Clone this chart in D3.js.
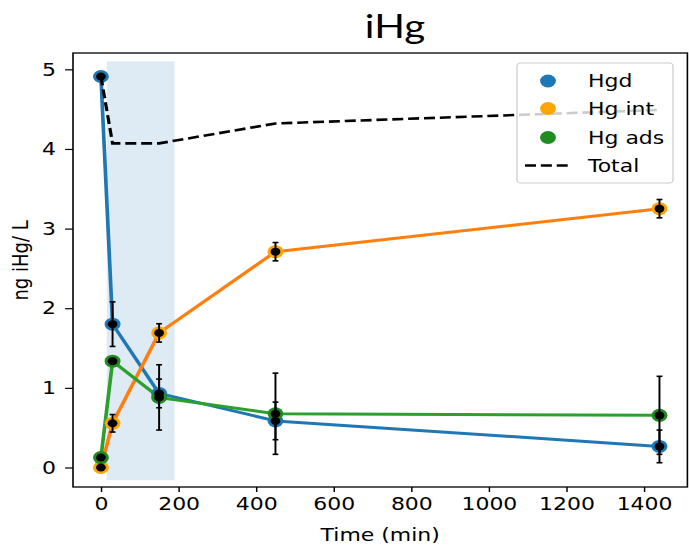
<!DOCTYPE html>
<html>
<head>
<meta charset="utf-8">
<script src="https://cdn.jsdelivr.net/npm/d3@7"></script>
<style>
  html, body { margin: 0; padding: 0; background: #fff; }
  svg { display: block; }
  text { font-family: "DejaVu Sans", sans-serif; fill: #000; }
</style>
</head>
<body>
<svg id="chart"></svg>
<script>
// Sampling times (min)
const times = [0, 30, 150, 450, 1440];

// Mercury fractions (ng iHg / L) and their standard deviations
const hgd      = [4.91, 1.80, 0.93, 0.585, 0.265];
const hgdErr   = [0.0, 0.28, 0.18, 0.236, 0.205];
const hgInt    = [0.0, 0.555, 1.69, 2.71, 3.25];
const hgIntErr = [0.0, 0.11, 0.115, 0.115, 0.115];
const hgAds    = [0.125, 1.335, 0.88, 0.675, 0.655];
const hgAdsErr = [0.0, 0.0, 0.41, 0.51, 0.49];
const total    = [4.91, 4.07, 4.07, 4.32, 4.49];

// Shaded exposure window (min) and its vertical extent
const windowX = [15, 190];
const windowY = [-0.16, 5.1];

const xTicks = [0, 200, 400, 600, 800, 1000, 1200, 1400];
const yTicks = [0, 1, 2, 3, 4, 5];

const seriesNames = ["Hgd", "Hg int", "Hg ads"];

// Figure is drawn in a slightly narrower coordinate space and widened to the page
const k = 1.22;
const Wpx = 689, Hpx = 548;
const W = Wpx / k;
const fontSize = 18;

const svg = d3.select("#chart")
  .attr("width", Wpx).attr("height", Hpx)
  .attr("viewBox", `0 0 ${W} ${Hpx}`)
  .attr("preserveAspectRatio", "none");

const plotLeft = 73 / k, plotRight = 687.4 / k, plotTop = 53, plotBottom = 487;

const x = d3.scaleLinear().domain([-72, 1512]).range([plotLeft, plotRight]);
const y = d3.scaleLinear().domain([-0.245, 5.205]).range([plotBottom, plotTop]);

// Exposure window
svg.append("rect")
  .attr("x", x(windowX[0])).attr("width", x(windowX[1]) - x(windowX[0]))
  .attr("y", y(windowY[1])).attr("height", y(windowY[0]) - y(windowY[1]))
  .attr("fill", "rgba(31,119,180,0.15)");

const series = [
  { name: seriesNames[0], vals: hgd,   err: hgdErr,   line: "#1f77b4", dot: "#1f77b4" },
  { name: seriesNames[1], vals: hgInt, err: hgIntErr, line: "#ff7f0e", dot: "#ffa500" },
  { name: seriesNames[2], vals: hgAds, err: hgAdsErr, line: "#2ca02c", dot: "#228b22" }
];

const line = d3.line().x((d, i) => x(times[i])).y(d => y(d));

// Connecting lines
series.forEach(s => {
  svg.append("path").datum(s.vals)
    .attr("d", line).attr("fill", "none")
    .attr("stroke", s.line).attr("stroke-width", 3).attr("stroke-linejoin", "round");
});

// Coloured markers
series.forEach(s => {
  svg.append("g").selectAll("ellipse").data(s.vals).join("ellipse")
    .attr("cx", (d, i) => x(times[i])).attr("cy", d => y(d))
    .attr("rx", 6.5).attr("ry", 6.5)
    .attr("fill", s.dot);
});

// Total
svg.append("path").datum(total)
  .attr("d", line).attr("fill", "none")
  .attr("stroke", "#000").attr("stroke-width", 2.6)
  .attr("stroke-dasharray", "9,4");

// Error bars with black centre points
series.forEach(s => {
  const g = svg.append("g");
  s.vals.forEach((v, i) => {
    const e = s.err[i];
    const cx = x(times[i]);
    if (e > 0) {
      g.append("line").attr("x1", cx).attr("x2", cx)
        .attr("y1", y(v - e)).attr("y2", y(v + e))
        .attr("stroke", "#000").attr("stroke-width", 1.6);
      [v - e, v + e].forEach(c => {
        g.append("line").attr("x1", cx - 2.4).attr("x2", cx + 2.4)
          .attr("y1", y(c)).attr("y2", y(c))
          .attr("stroke", "#000").attr("stroke-width", 1.6);
      });
    }
    g.append("circle").attr("cx", cx).attr("cy", y(v)).attr("r", 4).attr("fill", "#000");
  });
});

// Axes
const xAxis = d3.axisBottom(x).tickValues(xTicks).tickSize(5).tickPadding(5).tickFormat(d3.format("d"));
const yAxis = d3.axisLeft(y).tickValues(yTicks).tickSize(6.5).tickPadding(7.5).tickFormat(d3.format("d"));

const gx = svg.append("g").attr("transform", `translate(0,${plotBottom})`).call(xAxis);
const gy = svg.append("g").attr("transform", `translate(${plotLeft},0)`).call(yAxis);
[gx, gy].forEach(g => {
  g.select(".domain").remove();
  g.selectAll(".tick line").attr("stroke", "#000").attr("stroke-width", 1.2);
  g.selectAll(".tick text").attr("font-size", fontSize).attr("font-family", "DejaVu Sans");
});

svg.append("rect")
  .attr("x", plotLeft).attr("y", plotTop).attr("width", plotRight - plotLeft).attr("height", plotBottom - plotTop)
  .attr("fill", "none").attr("stroke", "#000").attr("stroke-width", 1.3);

// Axis labels and title
svg.append("text").attr("x", x(720)).attr("y", 541)
  .attr("text-anchor", "middle").attr("font-size", fontSize).text("Time (min)");
svg.append("text")
  .attr("transform", `translate(${28 / k},${y(2.6)}) rotate(-90)`)
  .attr("text-anchor", "middle").attr("font-size", fontSize).text("ng iHg/ L");
svg.append("text").attr("x", 395 / k).attr("y", 38)
  .attr("text-anchor", "middle").attr("font-size", 33)
  .style("font-family", "Lato, sans-serif").text("iHg");

// Legend
const lg = svg.append("g");
lg.append("rect")
  .attr("x", 517 / k).attr("y", 63).attr("width", (673 - 517) / k).attr("height", 120)
  .attr("rx", 3).attr("fill", "#fff").attr("fill-opacity", 0.8)
  .attr("stroke", "#cccccc").attr("stroke-width", 1);
const rows = [81, 108.5, 137.5, 165.5];
series.forEach((s, i) => {
  lg.append("ellipse").attr("cx", 548 / k).attr("cy", rows[i]).attr("rx", 6.5).attr("ry", 6.5).attr("fill", s.dot);
  lg.append("text").attr("x", 588 / k).attr("y", rows[i]).attr("dy", "0.35em")
    .attr("font-size", fontSize).text(s.name);
});
lg.append("line").attr("x1", 525 / k).attr("x2", 570 / k).attr("y1", rows[3]).attr("y2", rows[3])
  .attr("stroke", "#000").attr("stroke-width", 2.6).attr("stroke-dasharray", "9,4");
lg.append("text").attr("x", 588 / k).attr("y", rows[3]).attr("dy", "0.35em")
  .attr("font-size", fontSize).text("Total");
</script>
</body>
</html>
